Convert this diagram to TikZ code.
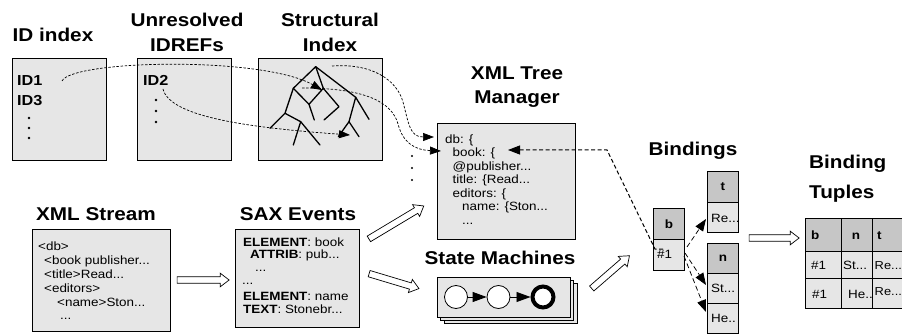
\documentclass[tikz,border=0pt]{standalone}
\usepackage{fontspec}
\setmainfont{Liberation Sans}[FakeStretch=1.12]
\usetikzlibrary{arrows.meta,shapes.arrows,calc}
\definecolor{boxgray}{RGB}{230,230,230}
\definecolor{headgray}{RGB}{198,198,198}
\begin{document}
\begin{tikzpicture}[x=1pt,y=-1pt,
 box/.style={draw, fill=boxgray, line width=0.8pt, inner sep=0pt, anchor=north west},
 ttl/.style={font=\bfseries\fontsize{18.5}{22}\selectfont, inner sep=0pt, anchor=base},
 ttlw/.style={font=\bfseries\fontsize{18.5}{22}\selectfont, inner sep=0pt, anchor=base west},
 ln/.style={font=\fontsize{12}{14}\selectfont, inner sep=0pt, anchor=base west},
 bln/.style={font=\bfseries\fontsize{14.5}{16}\selectfont, inner sep=0pt, anchor=base west},
 dcurve/.style={line width=0.7pt, dash pattern=on 2.5pt off 1.6pt, -{Triangle[length=11pt,width=8pt]}},
 bdash/.style={line width=1pt, dash pattern=on 4pt off 2.5pt, -{Triangle[length=12pt,width=9pt]}},
 ldash/.style={line width=0.75pt, dash pattern=on 5pt off 3pt, -{Triangle[length=12pt,width=9pt]}},
 harrow/.style={single arrow, draw, fill=white, line width=0.7pt, inner sep=2.9pt, single arrow head extend=3.6pt, single arrow tip angle=75, sloped, minimum height=#1},
 hcell/.style={draw, fill=headgray, line width=0.7pt, inner sep=0pt, anchor=north west, font=\bfseries\fontsize{12}{14}\selectfont},
 cell/.style={draw, fill=boxgray, line width=0.7pt, inner sep=0pt, anchor=north west},
 tree/.style={line width=1.3pt, line cap=round, line join=round},
 dot/.style={circle, fill=black, inner sep=0pt, minimum size=2.8pt}
]
\useasboundingbox (0,0) rectangle (902,334);

% ---------- titles ----------
\node[ttl] (tidx) at (53,41.5) {ID index};
\node[ttl] (tunr1) at (187,27) {Unresolved};
\node[ttl] (tunr2) at (187,51.5) {IDREFs};
\node[ttl] (tstr1) at (330,27) {Structural};
\node[ttl] (tstr2) at (330,51.5) {Index};
\node[ttl] (ttree1) at (517,80) {XML Tree};
\node[ttl] (ttree2) at (517,104) {Manager};
\node[ttl] (tstream) at (96,220) {XML Stream};
\node[ttl] (tsax) at (298,220) {SAX Events};
\node[ttl] (tsm) at (500,264) {State Machines};
\node[ttl] (tbind) at (693,155) {Bindings};
\node[ttlw] (ttup1) at (809,168) {Binding};
\node[ttlw] (ttup2) at (809,198.5) {Tuples};

% ---------- top boxes ----------
\node[box, minimum width=94pt, minimum height=102pt] (idx) at (12,58) {};
\node[box, minimum width=94pt, minimum height=102pt] (unr) at (137,58) {};
\node[box, minimum width=124pt, minimum height=102pt] (str) at (258,58) {};

\node[bln] (id1) at (17,86) {ID1};
\node[bln] (id3) at (17,106) {ID3};
\node[dot] (d1) at (29,118) {};
\node[dot] (d2) at (29,128) {};
\node[dot] (d3) at (29,138) {};
\node[bln] (id2) at (143,86) {ID2};
\node[dot] (d4) at (156,100) {};
\node[dot] (d5) at (156,111) {};
\node[dot] (d6) at (156,122) {};

% structural index tree
\draw[tree] (293.3,88.3) -- (315.7,66.7) -- (355.7,97.3);
\draw[tree] (315.7,66.7) -- (323.3,88.3);
\draw[tree] (293.3,88.3) -- (285,113.3);
\draw[tree] (293.3,88.3) -- (309,104.3) -- (323.3,88.3) -- (339,106.7) -- (324,120);
\draw[tree] (309,104.3) -- (314.3,120);
\draw[tree] (270,128.3) -- (285,113.3) -- (300.7,121.7) -- (293.3,145);
\draw[tree] (300.7,121.7) -- (320,145);
\draw[tree] (355.7,97.3) -- (369,119.3);
\draw[tree] (355.7,97.3) -- (349,121.7) -- (359,136.7);
\draw[tree] (349,121.7) -- (338.3,136.7);

% ---------- XML tree manager ----------
\node[box, minimum width=138pt, minimum height=116pt] (tree) at (437,123) {};
\node[ln] (tl1) at (445,143) {db: \{};
\node[ln] (tl2) at (452.5,156.5) {book: \{};
\node[ln] (tl3) at (452.5,170) {@publisher...};
\node[ln] (tl4) at (452.5,183.5) {title: \{Read...};
\node[ln] (tl5) at (452.5,197) {editors: \{};
\node[ln] (tl6) at (462,210.5) {name: \{Ston...};
\node[ln] (tl7) at (462,224) {...};

% dots between
\node[dot, minimum size=2.2pt] (d7) at (412,156) {};
\node[dot, minimum size=2.2pt] (d8) at (412,168) {};
\node[dot, minimum size=2.2pt] (d9) at (412,180) {};

% dashed curves
\coordinate (c1s) at (62,81);
\coordinate (c1e) at (322,90);
\coordinate (c2s) at (163,89);
\coordinate (c2e) at (350,135);
\coordinate (c3s) at (302,88);
\coordinate (c3e) at (441,151);
\coordinate (c4s) at (332,66);
\coordinate (c4e) at (434,137);
\draw[dcurve] (c1s) .. controls (72,60) and (262,56) .. (c1e);
\draw[dcurve] (c2s) .. controls (170,118) and (255,128) .. (c2e);
\draw[dcurve] (c3s) .. controls (365,88) and (392,102) .. (398,124) .. controls (403,143) and (415,150) .. (c3e);
\draw[dcurve] (c4s) .. controls (372,63) and (397,80) .. (403,102) .. controls (409,125) and (410,137) .. (c4e);

% ---------- XML stream ----------
\node[box, minimum width=138pt, minimum height=102pt] (stream) at (32,229) {};
\node[ln] (s1) at (38,250) {<db>};
\node[ln] (s2) at (44,264) {<book publisher...};
\node[ln] (s3) at (44,278) {<title>Read...};
\node[ln] (s4) at (44,292) {<editors>};
\node[ln] (s5) at (57,306) {<name>Ston...};
\node[ln] (s6) at (60,319) {...};

% ---------- SAX events ----------
\node[box, minimum width=124pt, minimum height=98pt] (sax) at (235,229) {};
\node[ln] (x1) at (243,246) {\textbf{ELEMENT}: book};
\node[ln] (x2) at (250,258.5) {\textbf{ATTRIB}: pub...};
\node[ln] (x3) at (255,271) {...};
\node[ln] (x4) at (242,284) {...};
\node[ln] (x5) at (243,300) {\textbf{ELEMENT}: name};
\node[ln] (x6) at (243,313) {\textbf{TEXT}: Stonebr...};

% ---------- state machines ----------
\node[box, minimum width=133pt, minimum height=40pt] (sm3) at (443.6,283) {};
\node[box, minimum width=133pt, minimum height=40pt] (sm2) at (440.3,280) {};
\node[box, minimum width=133pt, minimum height=40pt] (sm) at (437,277) {};
\node[circle, draw, fill=white, line width=0.8pt, minimum size=23pt, inner sep=0pt] (q1) at (456,297) {};
\node[circle, draw, fill=white, line width=0.8pt, minimum size=23pt, inner sep=0pt] (q2) at (498.5,297) {};
\node[circle, draw, fill=white, line width=4pt, minimum size=21pt, inner sep=0pt] (q3) at (543,297) {};
\draw[line width=0.8pt, -{Triangle[length=14pt,width=10pt]}] (q1) -- (q2);
\draw[line width=0.8pt, -{Triangle[length=14pt,width=10pt]}] (q2) -- (q3);

% ---------- bindings ----------
\node[hcell, minimum width=31pt, minimum height=31pt] (bh) at (653,208) {b};
\node[cell, minimum width=31pt, minimum height=31pt] (bc) at (653,239) {};
\node[hcell, minimum width=31pt, minimum height=31pt] (th) at (707,171) {t};
\node[cell, minimum width=31pt, minimum height=30pt] (tc) at (707,202) {};
\node[hcell, minimum width=31pt, minimum height=30pt] (nh) at (707,243) {n};
\node[cell, minimum width=31pt, minimum height=30pt] (nc1) at (707,273) {};
\node[cell, minimum width=31pt, minimum height=30pt] (nc2) at (707,303) {};
\node[ln] (bv) at (657,258.5) {\#1};
\node[ln] (tv) at (711,222) {Re...};
\node[ln] (nv1) at (711,292) {St...};
\node[ln] (nv2) at (711,322) {He..};

\coordinate (r0) at (687,247);
\coordinate (r1) at (706,219);
\coordinate (s0) at (685,253);
\coordinate (s1e) at (706,285);
\coordinate (h0) at (684,256);
\coordinate (h1) at (706,312);
\draw[ldash] (r0) -- (r1);
\draw[ldash] (s0) -- (s1e);
\draw[ldash] (h0) -- (h1);

\coordinate (c5a) at (663,249);
\coordinate (c5b) at (655,249);
\coordinate (c5c) at (607,150);
\coordinate (c5e) at (508,150);
\draw[bdash] (c5a) -- (c5b) -- (c5c) -- (c5e);

% ---------- binding tuples ----------
\node[hcell, minimum width=36pt, minimum height=33pt] (ub) at (805,218) {};
\node[hcell, minimum width=31pt, minimum height=33pt] (un) at (841,218) {};
\node[hcell, minimum width=30pt, minimum height=33pt] (ut) at (872,218) {};
\node[cell, minimum width=36pt, minimum height=27pt] (u11) at (805,251) {};
\node[cell, minimum width=31pt, minimum height=27pt] (u12) at (841,251) {};
\node[cell, minimum width=30pt, minimum height=27pt] (u13) at (872,251) {};
\node[cell, minimum width=36pt, minimum height=30pt] (u21) at (805,278) {};
\node[cell, minimum width=31pt, minimum height=30pt] (u22) at (841,278) {};
\node[cell, minimum width=30pt, minimum height=30pt] (u23) at (872,278) {};
\node[ln, font=\bfseries\fontsize{12}{14}\selectfont] (ubl) at (811,239) {b};
\node[ln, font=\bfseries\fontsize{12}{14}\selectfont, anchor=base] (unl) at (856,239) {n};
\node[ln, font=\bfseries\fontsize{12}{14}\selectfont] (utl) at (877,239) {t};
\node[ln] (v11) at (811,269) {\#1};
\node[ln] (v12) at (843,269) {St...};
\node[ln, font=\fontsize{11.5}{14}\selectfont] (v13) at (874.5,269) {Re...};
\node[ln] (v21) at (812,298) {\#1};
\node[ln] (v22) at (848,298) {He..};
\node[ln, font=\fontsize{11.5}{14}\selectfont] (v23) at (874.5,295) {Re...};

% ---------- hollow arrows ----------
\coordinate (h1a) at (175,280);  \coordinate (h1b) at (227,280);
\coordinate (h2a) at (367,240);  \coordinate (h2b) at (422,207);
\coordinate (h3a) at (367,273);  \coordinate (h3b) at (417,288);
\coordinate (h4a) at (590,290);  \coordinate (h4b) at (628,257);
\coordinate (h5a) at (747,238);  \coordinate (h5b) at (797,238);
\path (h1a) -- node[harrow=52pt] (ha1) {} (h1b);
\path (h2a) -- node[harrow=64pt] (ha2) {} (h2b);
\path (h3a) -- node[harrow=52pt] (ha3) {} (h3b);
\path (h4a) -- node[harrow=50pt] (ha4) {} (h4b);
\path (h5a) -- node[harrow=50pt] (ha5) {} (h5b);
\end{tikzpicture}
\end{document}
